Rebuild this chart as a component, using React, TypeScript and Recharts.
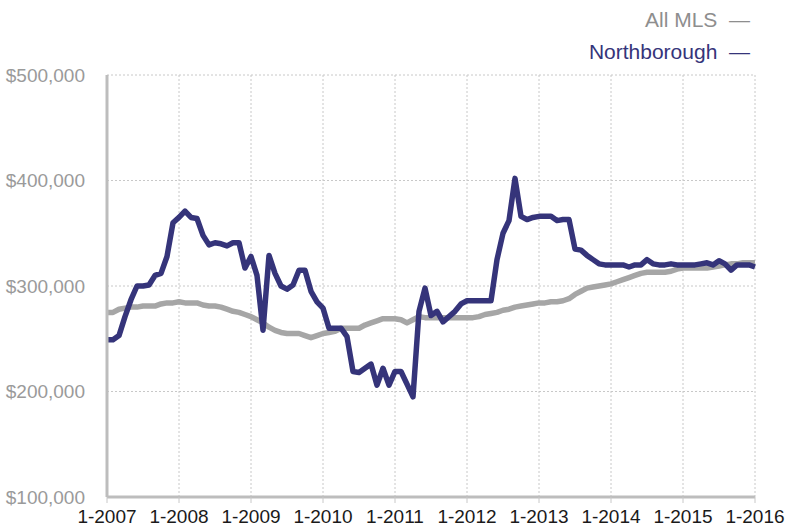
import React from 'react';
import { LineChart, Line, XAxis, YAxis, CartesianGrid } from 'recharts';

// monthly values, Jan 2007 .. Jan 2016, in thousands of dollars
const northborough = [
  249, 249, 253, 271, 287, 300, 300, 301, 310, 312, 328, 360,
  365, 371, 365, 364, 348, 339, 341, 340, 338, 341, 341, 317,
  328, 310, 258, 329, 312, 300, 297, 301, 315, 315, 295, 285,
  279, 260, 260, 260, 252, 219, 218, 222, 226, 206, 222, 206,
  219, 219, 207, 195, 276, 298, 272, 276, 266, 271, 276, 283,
  286, 286, 286, 286, 286, 325, 350, 362, 402, 366, 363, 365,
  366, 366, 366, 362, 363, 363, 335, 334, 329, 325, 321, 320,
  320, 320, 320, 318, 320, 320, 325, 321, 320, 320, 321, 320,
  320, 320, 320, 321, 322, 320, 324, 321, 315, 320, 320, 320,
  318,
];

const allMls = [
  275, 275, 278, 279, 280, 280, 281, 281, 281, 283, 284, 284,
  285, 284, 284, 284, 282, 281, 281, 280, 278, 276, 275, 273,
  271, 268, 265, 261, 258, 256, 255, 255, 255, 253, 251, 253,
  255, 256, 257, 260, 260, 260, 260, 263, 265, 267, 269, 269,
  269, 268, 265, 268, 271, 270, 270, 270, 270, 270, 270, 270,
  270, 270, 271, 273, 274, 275, 277, 278, 280, 281, 282, 283,
  284, 284, 285, 285, 286, 288, 292, 295, 298, 299, 300, 301,
  302, 304, 306, 308, 310, 312, 313, 313, 313, 313, 314, 316,
  317, 317, 317, 317, 317, 318, 319, 320, 321, 321, 322, 322,
  322,
];

const yearTicks = [0, 12, 24, 36, 48, 60, 72, 84, 96, 108];
const yTicks = [100000, 200000, 300000, 400000, 500000];

const data = northborough.map((v, i) => ({
  month: i,
  northborough: v * 1000,
  allMls: allMls[i] * 1000,
}));

const FONT = '"Liberation Sans", Arial, sans-serif';
const NAVY = '#35347a';
const GRAY = '#a6a6a6';

const fmtMoney = (v: number) => '$' + String(v).replace(/\B(?=(\d{3})+(?!\d))/g, ',');
const fmtYear = (v: number) => `1-${2007 + v / 12}`;

export default function App() {
  return (
    <div style={{ position: 'absolute', left: 0, top: 0, width: 802, height: 531, background: '#fff' }}>
      <div
        style={{
          position: 'absolute',
          top: 4,
          right: 52,
          fontFamily: FONT,
          fontSize: 21,
          textAlign: 'right',
          lineHeight: '32px',
        }}
      >
        <div style={{ color: '#8e8e8e' }}>All MLS&nbsp;&nbsp;—</div>
        <div style={{ color: NAVY }}>Northborough&nbsp;&nbsp;—</div>
      </div>
      <LineChart
        width={802}
        height={531}
        data={data}
        margin={{ top: 75, right: 47, bottom: 0, left: 0 }}
      >
        <CartesianGrid stroke="#c8c8c8" strokeDasharray="2 2" />
        <XAxis
          dataKey="month"
          type="number"
          domain={[0, 108]}
          ticks={yearTicks}
          tickFormatter={fmtYear}
          interval={0}
          height={34}
          stroke="#bdbdbd"
          strokeWidth={3}
          tickLine={{ stroke: '#c8c8c8', strokeWidth: 1 }}
          tickSize={6}
          tickMargin={7}
          tick={{ fill: '#1a1a1a', fontSize: 19, fontFamily: FONT }}
        />
        <YAxis
          type="number"
          domain={[100000, 500000]}
          ticks={yTicks}
          tickFormatter={fmtMoney}
          width={107}
          stroke="#bdbdbd"
          strokeWidth={3}
          tickLine={false}
          tickMargin={16}
          tick={{ fill: '#9a9a9a', fontSize: 19, fontFamily: FONT }}
        />
        <Line
          dataKey="allMls"
          stroke={GRAY}
          strokeWidth={5.5}
          dot={false}
          strokeLinejoin="round"
          isAnimationActive={false}
        />
        <Line
          dataKey="northborough"
          stroke={NAVY}
          strokeWidth={5.5}
          dot={false}
          strokeLinejoin="round"
          isAnimationActive={false}
        />
      </LineChart>
    </div>
  );
}
